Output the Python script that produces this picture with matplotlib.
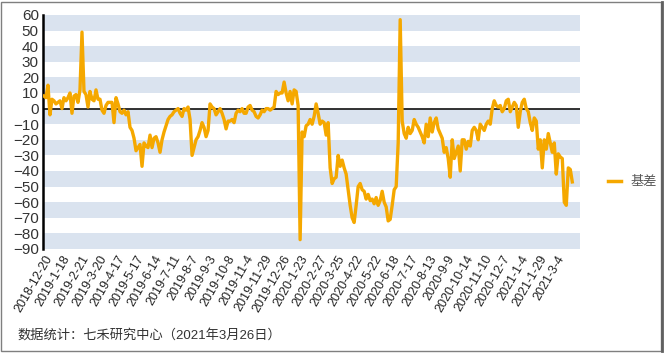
import numpy as np
import matplotlib
matplotlib.use("Agg")
import matplotlib.pyplot as plt
from matplotlib.patches import Rectangle
from matplotlib.lines import Line2D

plt.rcParams['font.family'] = ['Liberation Sans', 'Noto Sans CJK SC', 'DejaVu Sans']

# ---- data ----
tick_labels = ["2018-12-20", "2019-1-18", "2019-2-21", "2019-3-20", "2019-4-17",
               "2019-5-17", "2019-6-14", "2019-7-11", "2019-8-7", "2019-9-3",
               "2019-10-8", "2019-11-4", "2019-11-29", "2019-12-26", "2020-1-23",
               "2020-2-27", "2020-3-25", "2020-4-22", "2020-5-22", "2020-6-18",
               "2020-7-17", "2020-8-13", "2020-9-9", "2020-10-14", "2020-11-10",
               "2020-12-7", "2021-1-4", "2021-1-29", "2021-3-4"]
tick_step_days = 19          # trading days between labelled dates
total_days = 548             # trading days from 2018-12-20 to 2021-3-26

basis = [8, 7, 15, -4, 6, 5, 3, 4, 5, 0, 7, 5, 7, 10, -3, 8, 9, 4, 12, 49,
         11, 9, 1, 11, 6, 5, 12, 6, 6, -1, -3, 2, 4, 4, 4, -9, 7, 3, -2, -3,
         -1, -4, -2, -12, -14, -19, -27, -25, -23, -37, -22, -24, -25, -17, -25, -19,
         -18, -22, -28, -20, -15, -11, -7, -5, -4, -2, -1, 0, -3, -5, 0, -1,
         1, -7, -30, -25, -20, -18, -14, -9, -12, -18, -14, 3, 1, 0, -4, -2,
         0, -3, -7, -13, -8, -8, -7, -9, -3, -1, -2, 0, -3, -3, 1, 2,
         -1, -2, -5, -6, -4, -1, -2, 0, 0, -1, 0, 1, 11, 9, 10, 10,
         17, 10, 5, 11, 3, 12, 11, 2, -84, -15, -18, -11, -10, -7, -10, -5,
         3, -3, -10, -8, -9, -17, -9, -38, -48, -45, -44, -30, -37, -33, -38, -42,
         -52, -62, -70, -73, -62, -50, -48, -52, -53, -58, -55, -59, -58, -61, -57, -62,
         -59, -53, -60, -63, -72, -71, -62, -52, -50, -22, 57, -8, -16, -19, -12, -16,
         -14, -7, -10, -12, -15, -18, -22, -10, -18, -6, -15, -9, -6, -13, -16, -19,
         -28, -25, -32, -44, -20, -32, -28, -24, -40, -20, -20, -26, -21, -24, -14, -12,
         -14, -20, -10, -12, -14, -10, -8, -10, 0, 5, 2, 1, 2, -2, 0, 5,
         6, -2, 1, 4, 2, -12, -2, 4, 6, 0, -2, -9, -14, -6, -8, -26,
         -20, -38, -20, -26, -16, -22, -28, -22, -42, -29, -31, -32, -60, -62, -38, -39,
         -47]
series_name = "基差"
source_note = "数据统计：七禾研究中心（2021年3月26日）"

# ---- figure ----
W, H = 665, 353
fig = plt.figure(figsize=(W / 100, H / 100), dpi=100)
ax = fig.add_axes([43 / W, 1 - 249 / H, (580 - 43) / W, (249 - 15) / H])

band_color = '#dae3ef'
for lo in [50, 30, 10, -10, -30, -50, -70, -90]:
    ax.axhspan(lo, lo + 10, color=band_color, lw=0, zorder=0)

days = np.linspace(0, total_days, len(basis))
ax.plot(days, basis, color='#f5a800', lw=2.4, solid_joinstyle='round', zorder=3)
ax.axhline(0, color='#222222', lw=1.3, zorder=2)

ax.set_ylim(-90, 60)
ax.set_xlim(-1, 556)
ax.set_yticks(np.arange(-90, 61, 10))
ax.tick_params(axis='y', length=0, pad=3, labelsize=11, labelcolor='#333333')
ax.set_xticks(np.arange(len(tick_labels)) * tick_step_days)
ax.set_xticklabels(tick_labels, rotation=60, ha='right', rotation_mode='anchor',
                   fontsize=9, color='#222222')
ax.tick_params(axis='x', length=0, pad=3)

for s in ['top', 'right', 'bottom']:
    ax.spines[s].set_visible(False)
ax.spines['left'].set_color('black')
ax.spines['left'].set_linewidth(1.8)

handle = Line2D([], [], color='#f5a800', lw=2.5)
fig.legend([handle], [series_name], loc='center left',
           bbox_to_anchor=(608 / W, 1 - 182 / H), frameon=False, borderpad=0,
           borderaxespad=0, handlelength=1.0, handletextpad=0.7, fontsize=9.5,
           labelcolor='#595959')

fig.text(17 / W, 1 - 335 / H, source_note, fontsize=9.5, color='#333333',
         va='center', ha='left')

# figure border
fig.patches.append(Rectangle((1 / W, 2 / H), 660 / W, (H - 4) / H, transform=fig.transFigure,
                             fill=False, edgecolor='#7f7f7f', lw=1))
fig.lines.append(Line2D([661.5 / W, 661.5 / W], [2 / H, 1 - 2 / H], transform=fig.transFigure,
                        color='#606060', lw=2))

fig.savefig('out.png', dpi=100)
